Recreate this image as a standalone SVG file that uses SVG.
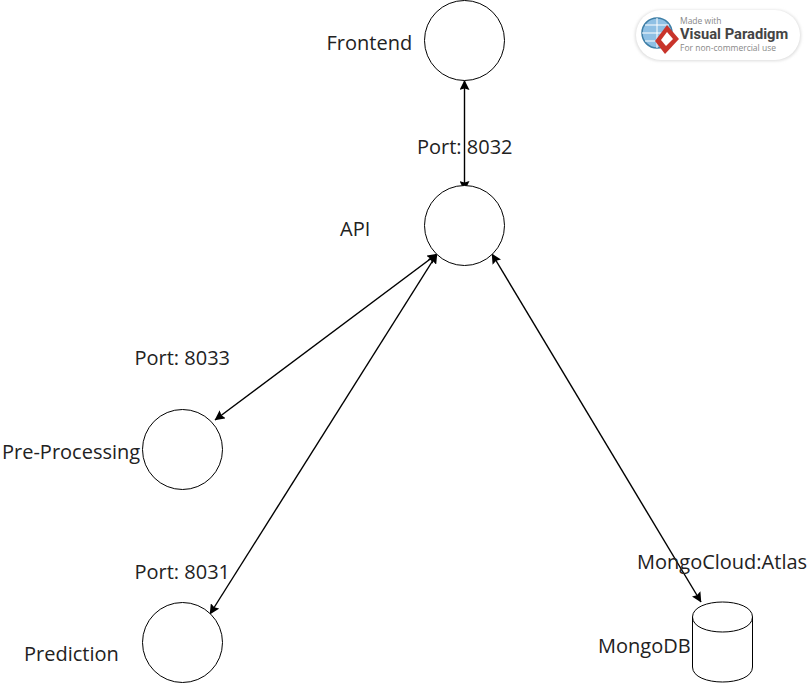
<svg xmlns="http://www.w3.org/2000/svg" width="808" height="683" viewBox="0 0 808 683">
<style>
.s{fill:#fff;stroke:#000;stroke-width:1}
.c{fill:none;stroke:#000;stroke-width:1.4;marker-start:url(#a);marker-end:url(#a)}
.t{font-family:"Open Sans",sans-serif;font-size:20px;fill:#222}
</style>
<defs>
<marker id="a" viewBox="0 0 10 10" refX="9.500" refY="5" markerWidth="10" markerHeight="10" markerUnits="userSpaceOnUse" orient="auto-start-reverse"><path d="M0 0L10 5L0 10L1.500 5Z" fill="#000"/></marker>
<filter id="b" x="-5%" y="-20%" width="110%" height="140%"><feGaussianBlur stdDeviation="1.500"/></filter>
</defs>
<rect width="808" height="683" fill="#fff"/>
<g id="connectors">
<line class="c" x1="464.500" y1="80.500" x2="464.500" y2="190.500"/>
<line class="c" x1="437" y1="254" x2="215" y2="420"/>
<line class="c" x1="437" y1="254" x2="210" y2="614"/>
<line class="c" x1="492" y1="254" x2="701" y2="602"/>
</g>
<g id="frontend"><circle class="s" cx="464.500" cy="40.500" r="40"/><text class="t" x="326.500" y="49.500">Frontend</text></g>
<g id="api"><circle class="s" cx="464.500" cy="225.500" r="40"/><text class="t" x="340" y="235.500">API</text></g>
<g id="preprocessing"><circle class="s" cx="182.500" cy="449.500" r="40"/><text class="t" x="2" y="458.500">Pre-Processing</text></g>
<g id="prediction"><circle class="s" cx="182.500" cy="642.500" r="40"/><text class="t" x="24" y="660.500">Prediction</text></g>
<g id="mongodb"><path class="s" d="M692.500 617C692.500 597 752.500 597 752.500 617V667C752.500 687 692.500 687 692.500 667ZM692.500 617C692.500 637 752.500 637 752.500 617"/><text class="t" x="598" y="652.500">MongoDB</text></g>
<g id="labels">
<text class="t" x="417" y="153.500">Port: 8032</text>
<text class="t" x="134.500" y="364.500">Port: 8033</text>
<text class="t" x="134.500" y="578.500">Port: 8031</text>
<text class="t" x="637" y="568.500">MongoCloud:Atlas</text>
</g>
<g id="badge">
<rect x="635" y="10" width="166" height="51" rx="25" fill="#ddd" filter="url(#b)"/>
<rect x="636" y="10" width="164" height="50" rx="25" fill="#fff"/>
<circle cx="657" cy="33" r="15" fill="#8fc0e4" stroke="#3d7ea6" stroke-width="1.500"/>
<path d="M642 33H672M657 18V48M645 25H669M645 41H669" stroke="#fff" fill="none"/>
<path d="M667 25L679 39L665 54L655 41Z" fill="#c8342b"/>
<path d="M667 32L673 39L666 46L661 40Z" fill="#fff"/>
<text x="680" y="24" font-family="Open Sans,sans-serif" font-size="8.500" fill="#888">Made with</text>
<text x="680" y="39" font-family="Roboto,sans-serif" font-size="14.700" font-weight="700" fill="#444">Visual Paradigm</text>
<text x="680" y="50.500" font-family="Open Sans,sans-serif" font-size="8.500" fill="#888">For non-commercial use</text>
</g>
</svg>
